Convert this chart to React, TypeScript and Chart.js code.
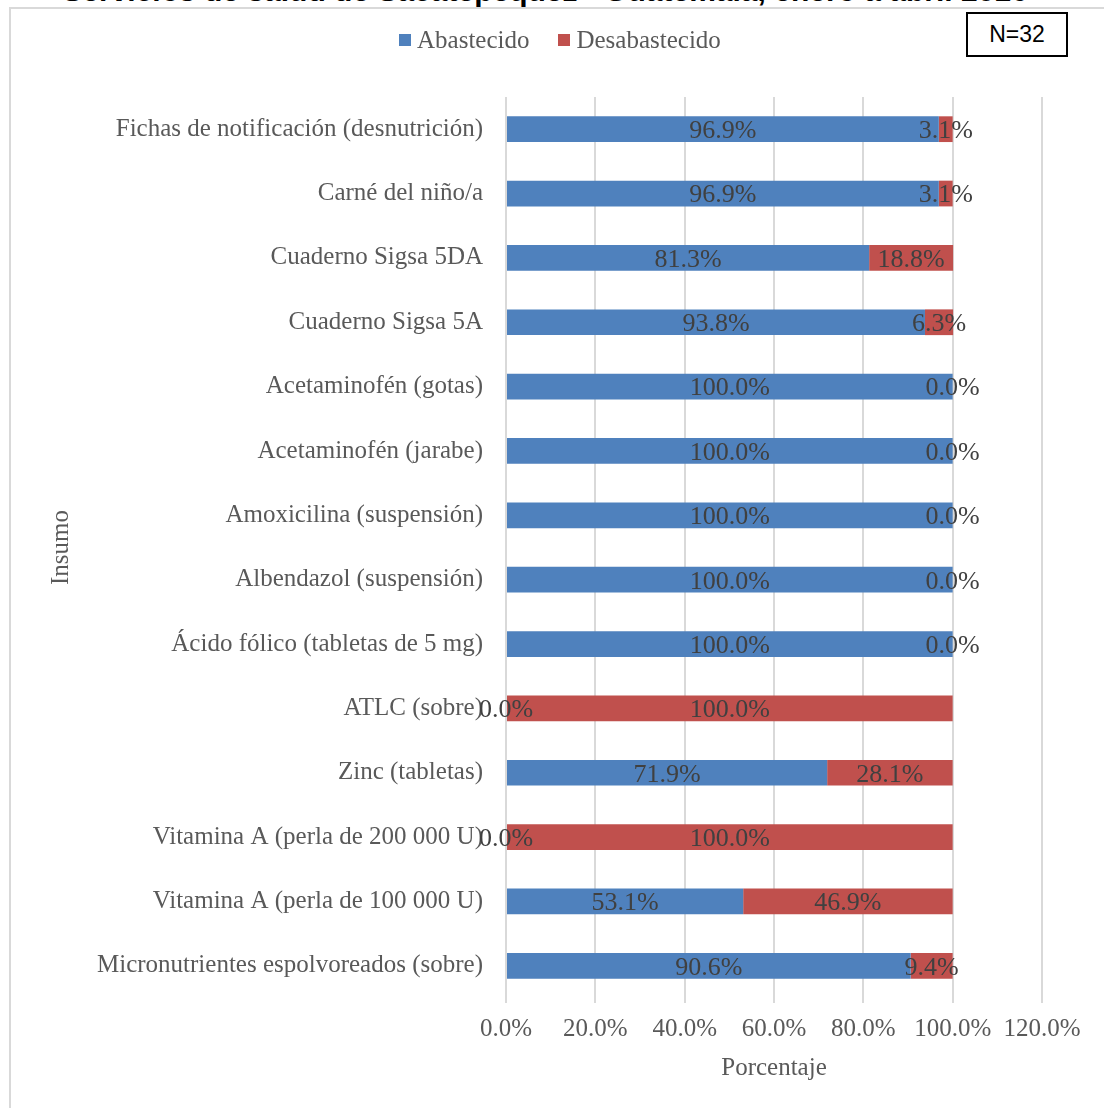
import { useEffect, useRef } from "react";
import { Chart, registerables } from "chart.js";

Chart.register(...registerables);

// Supplies surveyed, top to bottom
const categories = [
  "Fichas de notificación (desnutrición)",
  "Carné del niño/a",
  "Cuaderno Sigsa 5DA",
  "Cuaderno Sigsa 5A",
  "Acetaminofén (gotas)",
  "Acetaminofén (jarabe)",
  "Amoxicilina (suspensión)",
  "Albendazol (suspensión)",
  "Ácido fólico (tabletas de 5 mg)",
  "ATLC (sobre)",
  "Zinc (tabletas)",
  "Vitamina A (perla de 200 000 U)",
  "Vitamina A (perla de 100 000 U)",
  "Micronutrientes espolvoreados (sobre)",
];

// Percent of health services, per supply
const abastecido = [96.9, 96.9, 81.3, 93.8, 100, 100, 100, 100, 100, 0, 71.9, 0, 53.1, 90.6];
const desabastecido = [3.1, 3.1, 18.8, 6.3, 0, 0, 0, 0, 0, 100, 28.1, 100, 46.9, 9.4];

const seriesNames = ["Abastecido", "Desabastecido"];
const seriesColors = ["#4F81BD", "#C0504D"];

const xMin = 0;
const xMax = 120;
const xStep = 20;

const titleText = "Servicios de salud de Sacatepéquez - Guatemala, enero a abril 2016";
const sampleText = "N=32";
const xTitle = "Porcentaje";
const yTitle = "Insumo";

const SERIF = "'Liberation Serif', 'Times New Roman', serif";
const TEXT = "#595959";
const LABEL = "#404040";

const fmt = (v: number) => v.toFixed(1) + "%";

// Writes each segment's value in the middle of the segment
const segmentLabels = {
  id: "segmentLabels",
  afterDatasetsDraw(chart: any) {
    const ctx = chart.ctx;
    ctx.save();
    ctx.font = `26px ${SERIF}`;
    ctx.fillStyle = LABEL;
    ctx.textAlign = "center";
    ctx.textBaseline = "middle";
    chart.data.datasets.forEach((ds: any, di: number) => {
      const meta = chart.getDatasetMeta(di);
      meta.data.forEach((el: any, i: number) => {
        const { x, base, y } = el.getProps(["x", "base", "y"], true);
        ctx.fillText(fmt(ds.data[i]), (x + base) / 2, y + 2);
      });
    });
    ctx.restore();
  },
};

export default function App() {
  const canvasRef = useRef<HTMLCanvasElement | null>(null);

  useEffect(() => {
    if (!canvasRef.current) return;
    const chart = new Chart(canvasRef.current, {
      type: "bar",
      data: {
        labels: categories,
        datasets: [
          { label: seriesNames[0], data: abastecido, backgroundColor: seriesColors[0] },
          { label: seriesNames[1], data: desabastecido, backgroundColor: seriesColors[1] },
        ],
      },
      options: {
        indexAxis: "y",
        responsive: false,
        animation: false,
        devicePixelRatio: 1,
        layout: { padding: { top: 97, right: 62, bottom: 21, left: 42 } },
        plugins: {
          legend: { display: false },
          tooltip: { enabled: false },
          title: { display: false },
        },
        datasets: {
          bar: { categoryPercentage: 0.8, barPercentage: 0.5 },
        },
        scales: {
          x: {
            stacked: true,
            min: xMin,
            max: xMax,
            border: { display: false },
            grid: { color: "#d9d9d9", lineWidth: 2, tickLength: 5, drawTicks: true },
            ticks: {
              stepSize: xStep,
              padding: 11,
              color: TEXT,
              font: { family: SERIF, size: 25 },
              callback: (v: any) => fmt(Number(v)),
            },
            title: {
              display: true,
              text: xTitle,
              color: TEXT,
              font: { family: SERIF, size: 25 },
              padding: { top: 4, bottom: 4 },
            },
            afterFit: (scale: any) => {
              scale.height = 89;
            },
          },
          y: {
            stacked: true,
            border: { display: false },
            grid: { display: false },
            ticks: {
              padding: 15,
              color: TEXT,
              font: { family: SERIF, size: 25 },
              autoSkip: false,
            },
            title: {
              display: true,
              text: yTitle,
              color: TEXT,
              font: { family: SERIF, size: 25 },
              padding: { top: 4, bottom: 4 },
            },
            afterFit: (scale: any) => {
              scale.width = 464;
            },
          },
        },
      },
      plugins: [segmentLabels],
    });
    return () => chart.destroy();
  }, []);

  return (
    <div style={{ position: "absolute", left: 0, top: 0, width: 1104, height: 1108, overflow: "hidden", background: "#fff" }}>
      <div
        style={{
          position: "absolute",
          left: 0,
          width: 1090,
          top: -24,
          textAlign: "center",
          font: "bold 30px 'Liberation Sans', Arial, sans-serif",
          lineHeight: "30px",
          color: "#000",
          whiteSpace: "nowrap",
        }}
      >
        {titleText}
      </div>
      <div
        style={{
          position: "absolute",
          left: 9,
          top: 7,
          width: 1200,
          height: 1200,
          borderLeft: "2px solid #d9d9d9",
          borderTop: "2px solid #d9d9d9",
        }}
      />
      <canvas ref={canvasRef} width={1104} height={1108} style={{ position: "absolute", left: 0, top: 0 }} />
      <div
        style={{
          position: "absolute",
          left: 399,
          top: 26,
          height: 28,
          display: "flex",
          alignItems: "center",
          font: `25px ${SERIF}`,
          color: TEXT,
          whiteSpace: "nowrap",
        }}
      >
        {seriesNames.map((name, i) => (
          <div key={name} style={{ display: "flex", alignItems: "center", marginRight: i === 0 ? 29 : 0 }}>
            <span style={{ display: "inline-block", width: 12, height: 12, background: seriesColors[i], marginRight: 6 }} />
            <span>{name}</span>
          </div>
        ))}
      </div>
      <div
        style={{
          position: "absolute",
          left: 966,
          top: 12,
          width: 98,
          height: 41,
          border: "2px solid #000",
          background: "#fff",
          display: "flex",
          alignItems: "center",
          justifyContent: "center",
          font: "23px 'Liberation Sans', Arial, sans-serif",
          color: "#000",
        }}
      >
        {sampleText}
      </div>
    </div>
  );
}
